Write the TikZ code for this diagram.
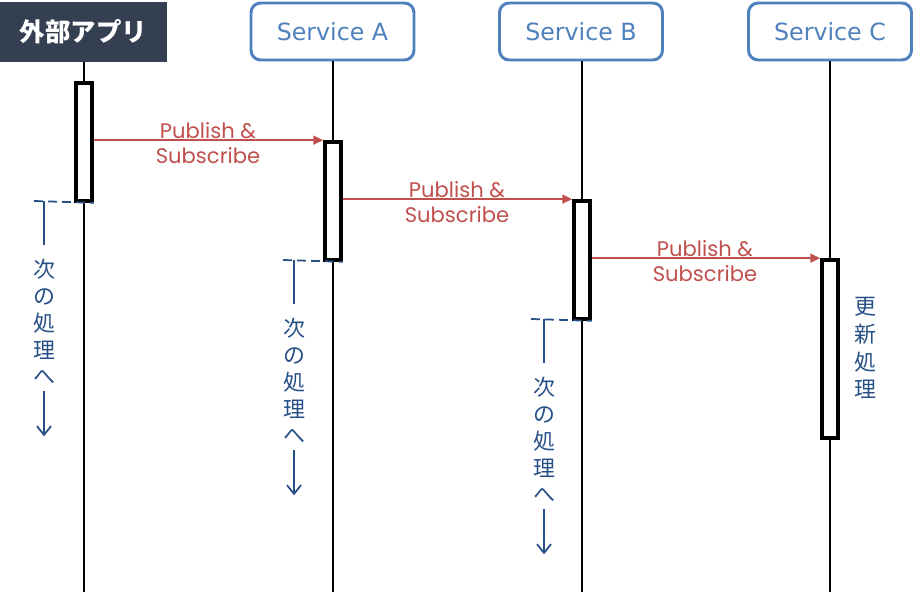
\documentclass[tikz,border=0pt]{standalone}
\usepackage{fontspec}
\setmainfont{DejaVu Sans}
\newfontfamily\jpfont{Noto Sans CJK JP}
\newfontfamily\msgfont{Poppins}
\usetikzlibrary{arrows.meta}

\definecolor{headdark}{HTML}{353F52}
\definecolor{svcblue}{HTML}{4F81BD}
\definecolor{msgred}{HTML}{C0504D}
\definecolor{noteblue}{HTML}{264F86}

\tikzset{
  extbox/.style={fill=headdark, text=white, minimum width=167*0.02cm, minimum height=60*0.02cm, inner sep=0pt, font=\jpfont\bfseries\fontsize{14.5}{17}\selectfont},
  svcbox/.style={draw=svcblue, line width=1.7pt, rounded corners=5.5pt, text=svcblue, fill=white, minimum width=163*0.02cm, minimum height=57*0.02cm, inner sep=0pt, font=\fontsize{13.5}{16}\selectfont},
  life/.style={line width=1.1pt},
  actbar/.style={draw, line width=2.1pt, fill=white, minimum width=16*0.02cm, inner sep=0pt},
  msg/.style={draw=msgred, line width=1pt, -{Triangle[length=5.5pt, width=5pt]}},
  msglabel/.style={text=msgred, align=center, font=\msgfont\fontsize{12}{14.5}\selectfont, inner sep=0pt},
  ret/.style={draw=noteblue, line width=1pt, dash pattern=on 5pt off 3pt},
  noteline/.style={draw=noteblue, line width=1pt},
  notetext/.style={text=noteblue, align=center, inner sep=0pt, font=\jpfont\fontsize{12.5}{15.3}\selectfont},
}

\begin{document}
\begin{tikzpicture}[x=0.02cm, y=-0.02cm]
		\useasboundingbox (0,0) rectangle (914,594);
		% header boxes
		\node[extbox] (ext) at (83.5,32) {外部アプリ};
		\node[svcbox] (svcA) at (332.5,31.5) {Service A};
		\node[svcbox] (svcB) at (581,31.5) {Service B};
		\node[svcbox] (svcC) at (830,31.5) {Service C};
		% lifeline ends
		\coordinate (endE) at (84,592);
		\coordinate (endA) at (333,592);
		\coordinate (endB) at (582,592);
		\coordinate (endC) at (830,592);
		\draw[life] (ext.south -| endE) -- (endE);
		\draw[life] (svcA.south -| endA) -- (endA);
		\draw[life] (svcB.south -| endB) -- (endB);
		\draw[life] (svcC.south -| endC) -- (endC);
		% activation bars
		\node[actbar, minimum height=118*0.02cm] (barE) at (84,142) { };
		\node[actbar, minimum height=118*0.02cm] (barA) at (333,201) { };
		\node[actbar, minimum height=118*0.02cm] (barB) at (582,260) { };
		\node[actbar, minimum height=178*0.02cm] (barC) at (830,349) { };
		% messages
		\draw[msg] (barE.east |- barA.north) -- (barA.north west);
		\draw[msg] (barA.east |- barB.north) -- (barB.north west);
		\draw[msg] (barB.east |- barC.north) -- (barC.north west);
		\node[msglabel] (pubA) at (208,143) {Publish \&\\Subscribe};
		\node[msglabel] (pubB) at (457,202) {Publish \&\\Subscribe};
		\node[msglabel] (pubC) at (705,261) {Publish \&\\Subscribe};
		% return to next step
		\coordinate (retE) at (34,201);
		\coordinate (retA) at (283,260);
		\coordinate (retB) at (531,319);
		\draw[ret] (retE) -- (barE.south east);
		\draw[ret] (retA) -- (barA.south east);
		\draw[ret] (retB) -- (barB.south east);
		\node[notetext] (nextE) at (44,322) {次\\の\\処\\理\\へ};
		\node[notetext] (nextA) at (294,381) {次\\の\\処\\理\\へ};
		\node[notetext] (nextB) at (544,440) {次\\の\\処\\理\\へ};
		\draw[noteline] (nextE.north |- retE) -- ++(0,44);
		\draw[noteline] (nextA.north |- retA) -- ++(0,44);
		\draw[noteline] (nextB.north |- retB) -- ++(0,44);
		\draw[noteline, -{Straight Barb[length=5pt, width=8pt]}] (nextE.south) ++(0,6) -- ++(0,45);
		\draw[noteline, -{Straight Barb[length=5pt, width=8pt]}] (nextA.south) ++(0,6) -- ++(0,45);
		\draw[noteline, -{Straight Barb[length=5pt, width=8pt]}] (nextB.south) ++(0,6) -- ++(0,45);
		% update
		\node[notetext, font=\jpfont\fontsize{12.5}{15.8}\selectfont] (upd) at (865,348) {更\\新\\処\\理};
\end{tikzpicture}
\end{document}
